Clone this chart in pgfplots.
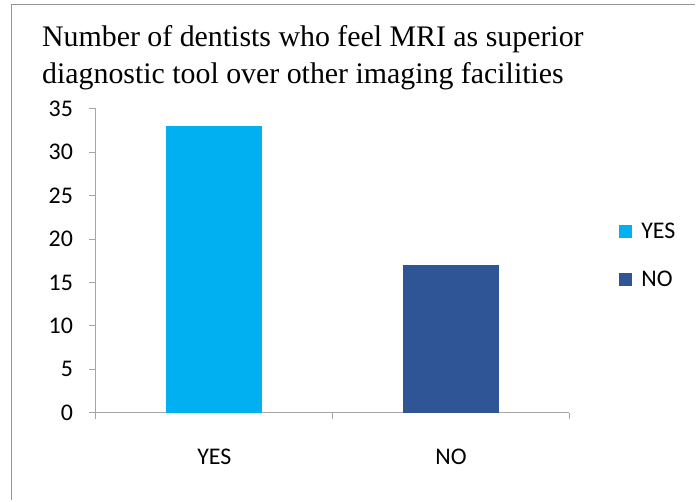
\documentclass[border=0pt]{standalone}
\usepackage{pgfplots}
\pgfplotsset{compat=1.18}
\usepackage{fontspec}
\setmainfont{Carlito}
\newfontfamily\titlefont{Liberation Serif}

\definecolor{yescol}{RGB}{0,176,240}
\definecolor{nocol}{RGB}{47,85,151}
\definecolor{axgray}{RGB}{166,166,166}
\definecolor{framegray}{RGB}{150,150,150}

\begin{document}
\begin{tikzpicture}[x=1bp,y=1bp]
  % page area and chart frame
  \path[fill=white] (0,0) rectangle (696,501);
  \draw[framegray, line width=1.4bp] (11.5,0) -- (11.5,496.5) -- (696,496.5);

  % title
  \node[anchor=base west, inner sep=0pt, font=\titlefont\fontsize{30}{37}\selectfont]
    at (42,454.3) {Number of dentists who feel MRI as superior};
  \node[anchor=base west, inner sep=0pt, font=\titlefont\fontsize{30}{37}\selectfont]
    at (42,417) {diagnostic tool over other imaging facilities};

  \begin{axis}[
    at={(96bp,88bp)}, anchor=south west,
    scale only axis, width=474bp, height=304bp,
    xmin=-0.5, xmax=1.5, ymin=0, ymax=35,
    axis x line*=bottom, axis y line*=left,
    axis line style={axgray, line width=1bp},
    ytick={0,5,...,35},
    % category boundaries carry the tick marks, the names sit between them
    xtick={-0.5,0.5,1.5}, xticklabels={},
    extra x ticks={0,1}, extra x tick labels={YES,NO},
    extra x tick style={major tick length=0pt},
    tick style={axgray, line width=1bp},
    major tick length=6.5bp, tick align=outside,
    /pgf/number format/assume math mode=true,
    tick label style={font=\fontsize{24}{28}\selectfont, text=black},
    yticklabel style={xshift=-13bp},
    xticklabel style={yshift=-33bp},
    ybar, bar width=96bp, bar shift=0pt,
    legend style={draw=none, at={(1.105,0.518)}, anchor=west,
      font=\fontsize{24}{28}\selectfont, row sep=27bp, column sep=7bp,
      inner sep=0pt},
    legend cell align=left,
    legend image code/.code={\fill[#1] (0bp,-6.5bp) rectangle (13bp,6.5bp);},
  ]
    \addplot[fill=yescol, draw=none] coordinates {(0,33)};
    \addplot[fill=nocol, draw=none] coordinates {(1,17)};
    \legend{YES,NO}
  \end{axis}
\end{tikzpicture}
\end{document}
